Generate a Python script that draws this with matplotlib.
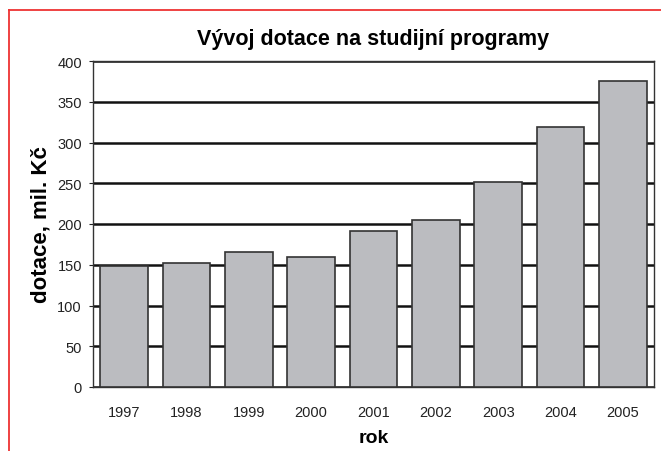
import matplotlib.pyplot as plt
from matplotlib.lines import Line2D

# data
years = ['1997', '1998', '1999', '2000', '2001', '2002', '2003', '2004', '2005']
dotace = [148, 152, 166, 159, 192, 205, 252, 319, 376]
y_ticks = [0, 50, 100, 150, 200, 250, 300, 350, 400]

plt.rcParams['font.family'] = ['Liberation Sans', 'DejaVu Sans']

fig = plt.figure(figsize=(6.61, 4.52), dpi=100)
ax = fig.add_axes([93/661, 1 - 388/452, (654 - 93)/661, (388 - 62)/452])

x = list(range(len(years)))
ax.bar(x, dotace, width=0.76, color='#bbbcc0', edgecolor='#333333', linewidth=1.2, zorder=3)

ax.set_xlim(-0.5, len(years) - 0.5)
ax.set_ylim(0, 400)
ax.set_yticks(y_ticks)
ax.set_xticks(x)
ax.set_xticklabels(years)
ax.tick_params(axis='y', direction='out', length=3, labelsize=10.5, colors='#222222', pad=5)
ax.tick_params(axis='x', length=0, labelsize=10.5, colors='#222222', pad=13)
ax.yaxis.grid(True, color='#111111', linewidth=1.8, zorder=1)
ax.set_axisbelow(True)
for s in ax.spines.values():
    s.set_color('#333333')
    s.set_linewidth(1.0)

ax.set_title('Vývoj dotace na studijní programy', fontsize=15.5, fontweight='bold', pad=12)
ax.set_ylabel('dotace, mil. Kč', fontsize=16, fontweight='bold', labelpad=4)
ax.set_xlabel('rok', fontsize=14, fontweight='bold', labelpad=7)

# red frame (top and left visible)
fig.add_artist(Line2D([9/661, 1.0], [1 - 11/452, 1 - 11/452], color='#ee3333', linewidth=1.3, transform=fig.transFigure))
fig.add_artist(Line2D([9/661, 9/661], [1 - 11/452, 0.0], color='#ee3333', linewidth=1.3, transform=fig.transFigure))

fig.savefig('out.png', dpi=100)
